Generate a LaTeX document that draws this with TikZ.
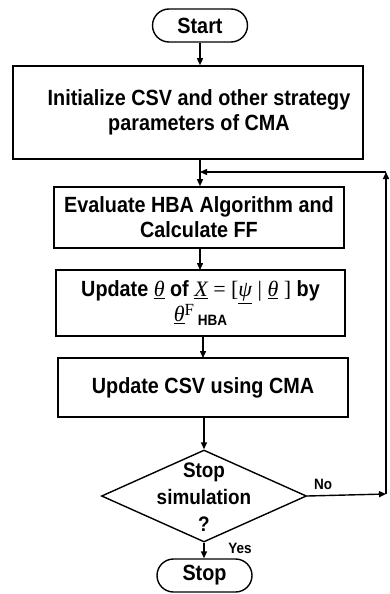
\documentclass[tikz,border=0pt]{standalone}
\usepackage{fontspec}
\setmainfont{Liberation Sans}[FakeStretch=0.9]
\newfontfamily\tms{Liberation Serif}
\usetikzlibrary{shapes.geometric,shapes.misc,arrows.meta}
\begin{document}
\begin{tikzpicture}[x=1pt,y=-1pt,
 box/.style={draw,line width=1.6pt,inner sep=0pt},
 term/.style={draw,line width=1.4pt,rounded rectangle,minimum width=95pt,minimum height=33pt,inner sep=0pt,font=\bfseries\fontsize{22}{24}\selectfont},
 txt/.style={align=center,font=\bfseries\fontsize{22}{25}\selectfont,inner sep=0pt},
 arr/.style={line width=1.4pt,-{Triangle[length=7pt,width=6pt]}},
 lab/.style={font=\bfseries\fontsize{15}{16}\selectfont,inner sep=0pt}]
\useasboundingbox (0,0) rectangle (389,594);
\node[term] (start) at (200,25.5) {Start};
\node[box,minimum width=350pt,minimum height=93pt] (b1) at (188,112.5) {};
\node[txt] (t1) at (199,112.5) {Initialize CSV and other strategy\\parameters of CMA};
\node[box,minimum width=290pt,minimum height=61pt] (b2) at (199,217.5) {};
\node[txt] (t2) at (199,217.5) {Evaluate HBA Algorithm and\\Calculate FF};
\node[box,minimum width=289pt,minimum height=66pt] (b3) at (200.5,303) {};
\node[txt] (t3) at (200.5,303) {Update \underline{{\tms\itshape\mdseries θ}} of \underline{{\tms\itshape\mdseries X}} {\tms\mdseries = [}\underline{{\tms\itshape\mdseries ψ}} {\tms\mdseries |} \underline{{\tms\itshape\mdseries θ}} {\tms\mdseries]} by\\\underline{{\tms\itshape\mdseries θ}}\raisebox{0.5ex}{\fontsize{17}{17}\selectfont\tms\mdseries F}\,\raisebox{-0.3ex}{\fontsize{15}{15}\selectfont HBA}};
\node[box,minimum width=290pt,minimum height=59pt] (b4) at (203,387.5) {};
\node[txt] (t4) at (203,387.5) {Update CSV using CMA};
\node[draw,diamond,line width=1.4pt,minimum width=205pt,minimum height=92pt,inner sep=0pt] (dia) at (204,496) {};
\node[txt,font=\bfseries\fontsize{21}{27}\selectfont] (t5) at (204,497) {Stop\\simulation\\?};
\node[term] (stop) at (204.5,575.5) {Stop};
\coordinate (fbR) at (386,494);
\coordinate (fbT) at (386,172);
\coordinate (join) at (200,172);
\draw[arr] (start.south) -- (start.south |- b1.north);
\draw[arr] (b1.south -| join) -- (join |- b2.north);
\draw[arr] (200,248) -- (200,270);
\draw[arr] (b3.south -| 203,0) -- (203,358);
\draw[arr] (204,417) -- (dia.north);
\draw[arr] (dia.south) -- (stop.north -| dia.south);
\draw[arr] (dia.east) -- (fbR);
\draw[arr] (fbR) -- (fbT);
\draw[arr] (fbT) -- (join);
\node[lab] (no) at (323,484) {No};
\node[lab] (yes) at (240,548) {Yes};
\end{tikzpicture}
\end{document}
